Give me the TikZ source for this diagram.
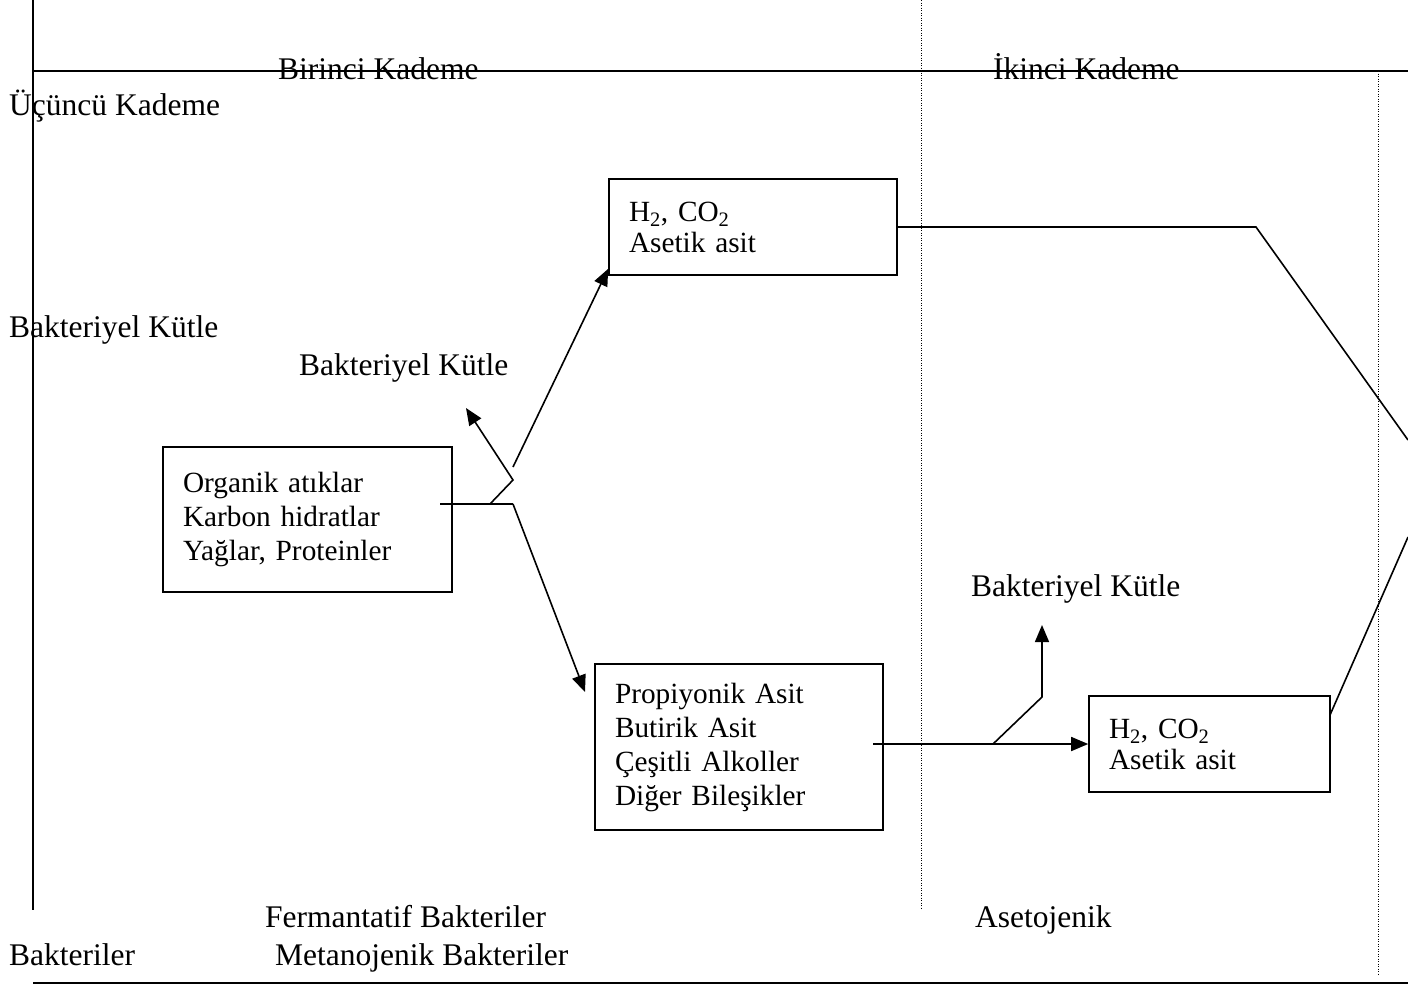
\documentclass[tikz,border=0pt]{standalone}
\usepackage{fontspec}
\setmainfont{Liberation Serif}
\usetikzlibrary{arrows.meta}
\usetikzlibrary{positioning}

\begin{document}
\begin{tikzpicture}[x=1pt,y=-1pt,
  font=\fontsize{31.5}{34}\selectfont,
  cizgi/.style={black,line width=1.6pt},
  oklu/.style={cizgi,-{Triangle[length=17pt,width=14pt]}},
  noktali/.style={black,line width=1pt,dash pattern=on 1pt off 1.5pt},
  kutu/.style={draw,line width=1.6pt,align=left,inner xsep=20pt,inner ysep=0pt,
    font=\fontsize{29.3}{34}\selectfont},
  yazi/.style={anchor=base west,inner sep=0pt}]
\useasboundingbox (0,0) rectangle (1408,986);

%frame
\draw[cizgi] (33,0) -- (33,910);
\draw[cizgi] (33,71) -- (1408,71);
\draw[cizgi,line width=2.5pt] (33,983) -- (1408,983);
\draw[noktali] (921,0) -- (921,908);
\draw[noktali] (1378,71) -- (1378,976);

%headings
\node[yazi] (kad1) at (278,79) {Birinci Kademe};
\node[yazi] (kad2) at (993,79) {İkinci Kademe};
\node[yazi] (kad3) at (9,115) {Üçüncü Kademe};
\node[yazi] (bk1) at (9,337) {Bakteriyel Kütle};
\node[yazi] (bk2) at (299,375) {Bakteriyel Kütle};
\node[yazi] (bk3) at (971,596) {Bakteriyel Kütle};
\node[yazi] (ferm) at (265,927) {Fermantatif Bakteriler};
\node[yazi] (aset) at (975,927) {Asetojenik};
\node[yazi] (bak) at (9,965) {Bakteriler};
\node[yazi] (met) at (275,965) {Metanojenik Bakteriler};

%boxes
\node[kutu,text width=249pt,minimum height=145pt] (org) at (307.5,519.5)
  {Organik atıklar\\Karbon hidratlar\\Yağlar, Proteinler};
\node[kutu,text width=248pt,minimum height=96pt] (hc1) at (753,227)
  {H\textsubscript{2}, CO\textsubscript{2}\\[-3pt]Asetik asit};
\node[kutu,text width=248pt,minimum height=166pt] (asit) at (739,747)
  {Propiyonik Asit\\Butirik Asit\\Çeşitli Alkoller\\Diğer Bileşikler};
\node[kutu,text width=201pt,minimum height=96pt] (hc2) at (1209.5,744)
  {H\textsubscript{2}, CO\textsubscript{2}\\[-3pt]Asetik asit};

%first stage
\coordinate (o1) at (440,504);
\coordinate (o2) at (490,504);
\coordinate (o3) at (513,504);
\coordinate (o4) at (513,480);
\coordinate (o5) at (466,408);
\coordinate (o6) at (513,467);
\coordinate (o7) at ([yshift=7pt]hc1.south west);
\coordinate (o8) at (585,692);
\draw[cizgi] (o1) -- (o3);
\draw[oklu] (o2) -- (o4) -- (o5);
\draw[oklu] (o6) -- (o7);
\draw[oklu] (o3) -- (o8);

%second stage
\coordinate (a1) at (873,744);
\coordinate (a2) at (993,744);
\coordinate (a3) at (1042,697);
\coordinate (a4) at (1042,625);
\draw[oklu] (a1) -- (hc2.west);
\draw[oklu] (a2) -- (a3) -- (a4);

%third stage
\coordinate (r1) at (1256,227);
\coordinate (r2) at (1408,440);
\coordinate (r3) at (1408,537);
\coordinate (r4) at (1330,715);
\draw[cizgi] (hc1.east) -- (r1) -- (r2);
\draw[cizgi] (r4) -- (r3);
\end{tikzpicture}
\end{document}
